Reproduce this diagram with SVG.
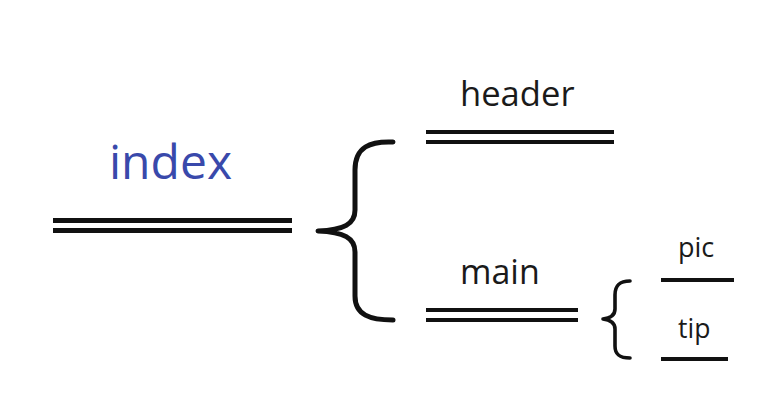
<svg xmlns="http://www.w3.org/2000/svg" width="784" height="412" viewBox="0 0 784 412">
<style>
.t{font-family:"Open Sans","Noto Sans",sans-serif;fill:#1a1a1a}
.bar{fill:#111}
.brace{fill:none;stroke:#111;stroke-linecap:round;stroke-linejoin:round}
</style>
<rect width="784" height="412" fill="#fff"/>
<g id="connectors">
<path class="brace" stroke-width="5" d="M393 142 C370 141,355 147,355 170 L355 210 C355 224,344 230,318 231 C344 232,355 238,355 252 L355 296 C355 315,370 320,393 320"/>
<path class="brace" stroke-width="3.6" d="M630 281 C620 281,615 285,615 295 L615 309 C615 315,611 318,603 319 C611 320,615 323,615 329 L615 346 C615 355,620 358,630 358"/>
</g>
<g id="index">
<text class="t" x="109" y="179" font-size="48" style="fill:#3949AB">index</text>
<rect class="bar" x="53" y="218" width="239" height="5"/>
<rect class="bar" x="53" y="228" width="239" height="5"/>
</g>
<g id="header">
<text class="t" x="460" y="106" font-size="34.6">header</text>
<rect class="bar" x="426" y="130" width="188" height="4"/>
<rect class="bar" x="426" y="140" width="188" height="4"/>
</g>
<g id="main">
<text class="t" x="460" y="284" font-size="34">main</text>
<rect class="bar" x="426" y="308" width="152" height="4"/>
<rect class="bar" x="426" y="318" width="152" height="4"/>
</g>
<g id="pic">
<text class="t" x="678" y="257" font-size="27">pic</text>
<rect class="bar" x="661" y="278" width="73" height="4"/>
</g>
<g id="tip">
<text class="t" x="678" y="338" font-size="26.5">tip</text>
<rect class="bar" x="661" y="357" width="67" height="4"/>
</g>
</svg>
